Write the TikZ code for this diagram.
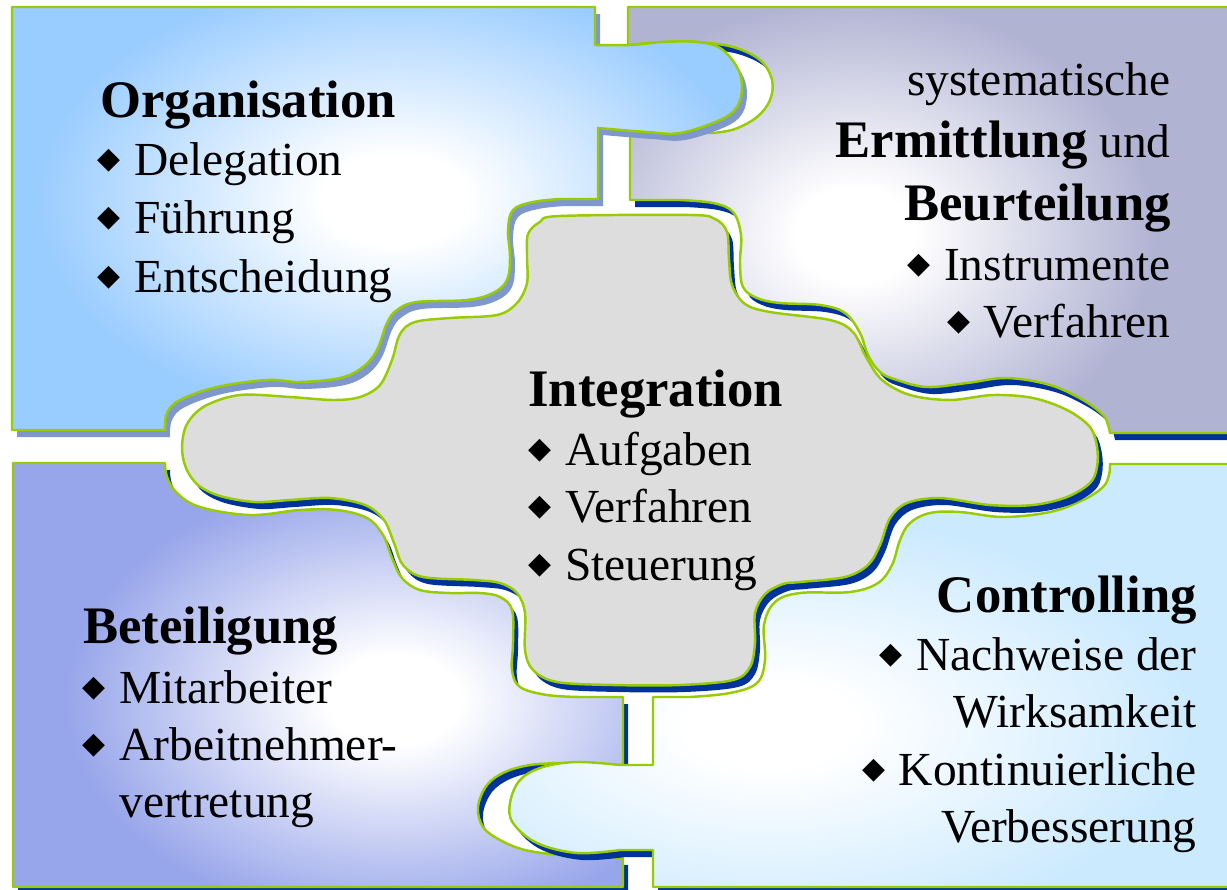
\documentclass[tikz,border=0pt]{standalone}
\usepackage{fontspec}
\setmainfont{Liberation Serif}
\newfontfamily\symfont{DejaVu Sans}
\usepackage{tikz}
\usepackage{xcolor}

\definecolor{orgcol}{HTML}{99CCFF}
\definecolor{ermcol}{HTML}{B1B3D3}
\definecolor{betcol}{HTML}{97A5EA}
\definecolor{concol}{HTML}{CCEAFE}
\definecolor{intcol}{HTML}{DDDDDD}
\definecolor{rimgreen}{HTML}{99CC00}
\definecolor{deepshadow}{HTML}{003399}
\definecolor{softshadow}{HTML}{7F98CC}

% white core fading out to the piece colour (25bp = edge of the shaded ellipse)
\pgfdeclareradialshading{orgglow}{\pgfpointorigin}{color(0bp)=(white); color(5bp)=(white); color(25bp)=(orgcol); color(50bp)=(orgcol)}
\pgfdeclareradialshading{ermglow}{\pgfpointorigin}{color(0bp)=(white); color(5bp)=(white); color(25bp)=(ermcol); color(50bp)=(ermcol)}
\pgfdeclareradialshading{betglow}{\pgfpointorigin}{color(0bp)=(white); color(5bp)=(white); color(25bp)=(betcol); color(50bp)=(betcol)}
\pgfdeclareradialshading{conglow}{\pgfpointorigin}{color(0bp)=(white); color(5bp)=(white); color(25bp)=(concol); color(50bp)=(concol)}

\newcommand\bul{\llap{\makebox[0pt]{\raisebox{1.8pt}{$\vcenter{\hbox{\symfont\fontsize{17}{17}\selectfont ◆}}$}}\hspace{14.2pt}}}

\newcommand\pieceOrg{(12,7) -- (595,7) -- (595,45)
  -- plot[smooth, tension=0.6] coordinates {(595,45) (630,45) (663,42) (697,42) (720,48) (737,67) (742,87) (737,107) (720,120) (680,133) (647,132) (598,128)}
  -- (598,199) -- (560,199)
  -- plot[smooth, tension=0.6] coordinates {(560,199) (533,202) (513,210) (508,230) (510,257) (507,280) (493,293) (467,300) (417,302) (397,310) (387,323) (377,350) (363,367) (340,378) (300,382) (267,380) (217,387) (180,400) (167,413) (165,430)}
  -- (12,430) -- cycle}

\newcommand\pieceErm{(628,7) -- (1240,7) -- (1240,433) -- (1110,433)
  -- plot[smooth, tension=0.6] coordinates {(1110,433) (1108,425) (1103,415) (1083,400) (1050,385) (1007,378) (967,383) (927,387) (897,380) (880,372) (868,355) (860,333) (845,313) (820,305) (780,303) (757,298) (743,287) (740,263) (741,235) (733,212) (713,203) (680,200)}
  -- (630,200) -- (630,133) -- (713,133)
  -- plot[smooth, tension=0.6] coordinates {(713,133) (735,129) (757,117) (770,100) (772,80) (760,60) (733,47) (697,42) (663,42) (628,45)}
  -- cycle}

\newcommand\pieceBet{(13,463) -- (165,463)
  -- plot[smooth, tension=0.6] coordinates {(165,463) (167,477) (177,493) (200,507) (250,515) (300,510) (337,510) (367,518) (383,535) (392,558) (402,578) (420,590) (450,593) (480,593) (500,597) (512,610) (513,643) (512,670) (520,687) (547,695) (580,697)}
  -- (623,697) -- (623,765) -- (560,763)
  -- plot[smooth, tension=0.6] coordinates {(560,763) (530,765) (505,772) (487,785) (478,807) (483,827) (500,840) (525,850) (560,855) (590,857)}
  -- (623,858) -- (623,887) -- (13,887) -- cycle}

\newcommand\pieceCon{(1240,464) -- (1110,464)
  -- plot[smooth, tension=0.6] coordinates {(1110,464) (1109,475) (1103,487) (1083,500) (1050,512) (1003,517) (960,512) (930,513) (910,523) (900,540) (892,565) (878,583) (850,592) (800,593) (775,602) (764,625) (765,660) (757,683) (730,693) (690,697)}
  -- (653,697) -- (653,765) -- (620,765)
  -- plot[smooth, tension=0.6] coordinates {(620,765) (577,762) (543,767) (520,780) (510,803) (513,823) (537,843) (577,853) (620,850)}
  -- (653,850) -- (653,887) -- (1240,887) -- cycle}

\newcommand\pieceInt{plot[smooth cycle, tension=0.55] coordinates {(560,216) (690,215) (715,219) (727,232) (729,260) (732,285) (745,304) (770,312) (830,320) (853,332) (866,357) (882,380) (910,395) (950,400) (993,395) (1033,398) (1067,410) (1090,427) (1097,447) (1097,467) (1090,483) (1067,497) (1033,505) (990,505) (940,498) (907,503) (890,518) (880,545) (868,565) (845,577) (800,582) (783,584) (765,594) (755,613) (755,643) (750,667) (733,680) (680,685) (613,685) (557,682) (533,670) (525,650) (525,613) (517,593) (500,583) (474,580) (423,577) (403,565) (394,543) (384,520) (365,505) (330,498) (290,500) (255,502) (220,496) (198,485) (186,468) (182,447) (187,424) (205,406) (240,395) (290,397) (333,400) (360,397) (380,385) (392,360) (400,334) (415,322) (450,318) (497,315) (517,303) (527,283) (527,257) (528,234) (540,222)}}

% shadow, fill, glow, green rim
\newcommand\drawpiece[5]{%
  \fill[#3, shift={(5,7)}] #1;
  \fill[#2col] #1;
  \begin{scope}
    \clip #1;
    \shade[shading=#2glow] #4 ellipse (#5);
  \end{scope}
  \draw[rim] #1;
}

\begin{document}
\begin{tikzpicture}[x=0.02cm, y=-0.02cm,
  rim/.style={draw=rimgreen, line width=1.4pt, line join=round},
  title/.style={inner sep=0pt, font=\fontsize{30}{36}\selectfont\bfseries},
  txt/.style={inner sep=0pt, font=\fontsize{27}{32}\selectfont}]

\fill[white] (0,0) rectangle (1227,889);
\useasboundingbox (0,0) rectangle (1227,889);

\drawpiece{\pieceBet}{bet}{deepshadow}{(395,700)}{330 and 225}
\drawpiece{\pieceCon}{con}{deepshadow}{(770,725)}{420 and 210}
\drawpiece{\pieceErm}{erm}{deepshadow}{(855,235)}{300 and 235}
\drawpiece{\pieceOrg}{org}{softshadow}{(395,200)}{360 and 225}

\fill[deepshadow, shift={(5,7)}] \pieceInt;
\fill[intcol] \pieceInt;
\draw[rim] \pieceInt;

\node[title, anchor=base west] (org) at (100,117) {Organisation};
\node[txt, anchor=base west] (org1) at (134,175) {\bul Delegation};
\node[txt, anchor=base west] (org2) at (134,233) {\bul Führung};
\node[txt, anchor=base west] (org3) at (134,292) {\bul Entscheidung};

\node[txt, anchor=base east] (erm0) at (1171,95) {systematische};
\node[txt, anchor=base east] (erm1) at (1171,157) {{\fontsize{30}{36}\selectfont\bfseries Ermittlung} und};
\node[title, anchor=base east] (erm) at (1171,220) {Beurteilung};
\node[txt, anchor=base east] (erm2) at (1171,280) {\bul Instrumente};
\node[txt, anchor=base east] (erm3) at (1171,337) {\bul Verfahren};

\node[title, anchor=base west] (int) at (528,406) {Integration};
\node[txt, anchor=base west] (int1) at (565,465) {\bul Aufgaben};
\node[txt, anchor=base west] (int2) at (565,522) {\bul Verfahren};
\node[txt, anchor=base west] (int3) at (565,580) {\bul Steuerung};

\node[title, anchor=base west] (bet) at (83,643) {Beteiligung};
\node[txt, anchor=base west] (bet1) at (119,703) {\bul Mitarbeiter};
\node[txt, anchor=base west] (bet2) at (119,760) {\bul Arbeitnehmer-};
\node[txt, anchor=base west] (bet3) at (119,817) {vertretung};

\node[title, anchor=base east] (con) at (1197,612) {Controlling};
\node[txt, anchor=base east] (con1) at (1197,670) {\bul Nachweise der};
\node[txt, anchor=base east] (con2) at (1197,727) {Wirksamkeit};
\node[txt, anchor=base east] (con3) at (1197,785) {\bul Kontinuierliche};
\node[txt, anchor=base east] (con4) at (1197,842) {Verbesserung};

\end{tikzpicture}
\end{document}
